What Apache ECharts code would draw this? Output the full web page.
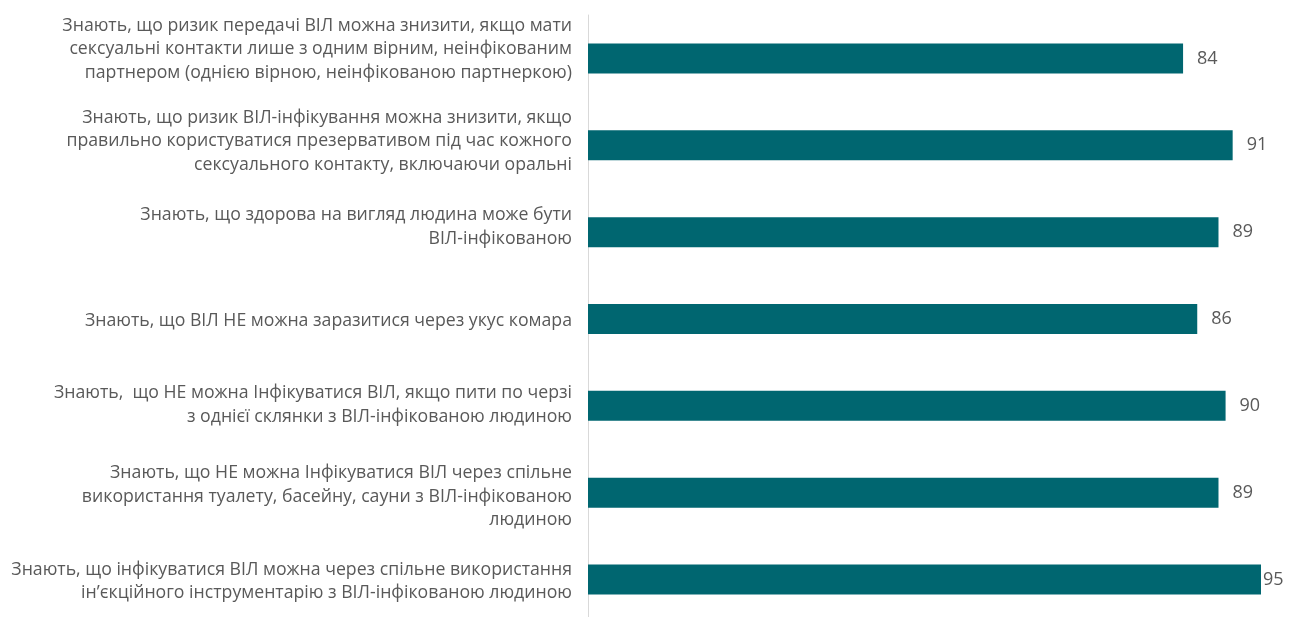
<!DOCTYPE html>
<html>
<head>
<meta charset="utf-8">
<script src="https://cdn.jsdelivr.net/npm/echarts@6/dist/echarts.min.js"></script>
<style>
  html, body { margin: 0; padding: 0; background: #fff; overflow: hidden; }
  #chart { width: 1290px; height: 630px; }
</style>
</head>
<body>
<div id="chart"></div>
<script>
// categories, top to bottom
const categories = [
  'Знають, що ризик передачі ВІЛ можна знизити, якщо мати\nсексуальні контакти лише з одним вірним, неінфікованим\nпартнером (однією вірною, неінфікованою партнеркою)',
  'Знають, що ризик ВІЛ-інфікування можна знизити, якщо\nправильно користуватися презервативом під час кожного\nсексуального контакту, включаючи оральні',
  'Знають, що здорова на вигляд людина може бути\nВІЛ-інфікованою',
  'Знають, що ВІЛ НЕ можна заразитися через укус комара',
  'Знають,  що НЕ можна Інфікуватися ВІЛ, якщо пити по черзі\nз однієї склянки з ВІЛ-інфікованою людиною',
  'Знають, що НЕ можна Інфікуватися ВІЛ через спільне\nвикористання туалету, басейну, сауни з ВІЛ-інфікованою\nлюдиною',
  'Знають, що інфікуватися ВІЛ можна через спільне використання\nін’єкційного інструментарію з ВІЛ-інфікованою людиною'
];
const values = [84, 91, 89, 86, 90, 89, 95];

// vertical nudge of each label block (px, negative = up), as in the original layout
const labelShift = [-9, -4, -5, 2, -1, 4, 2];

// spacer lines: an invisible line of height 2*|shift| above or below the block
const rich = {
  t: { color: '#595959', fontFamily: 'Open Sans', fontSize: 17.7, lineHeight: 23.5, align: 'right' }
};
labelShift.forEach(function (s, i) {
  rich['g' + i] = { fontSize: 1, lineHeight: Math.max(1, 2 * Math.abs(s)) };
});

// the div is a bit taller than the window so the last row can run to the edge
const chart = echarts.init(document.getElementById('chart'));

const option = {
  animation: false,
  grid: {
    left: 588,
    right: 29,
    top: 15,
    height: 608,
    containLabel: false
  },
  xAxis: {
    type: 'value',
    min: 0,
    max: 95,
    show: false
  },
  yAxis: {
    type: 'category',
    inverse: true,
    data: categories,
    axisLine: { show: true, lineStyle: { color: '#d9d9d9', width: 1 } },
    axisTick: { show: false },
    axisLabel: {
      margin: 16,
      align: 'right',
      rich: rich,
      formatter: function (value, i) {
        const body = value.split('\n').map(function (l) { return '{t|' + l + '}'; }).join('\n');
        const gap = '{g' + i + '| }';
        return labelShift[i] < 0 ? body + '\n' + gap : gap + '\n' + body;
      }
    }
  },
  series: [{
    type: 'bar',
    data: values.map(function (v, i) {
      return i === values.length - 1 ? { value: v, label: { distance: 2 } } : v;
    }),
    barWidth: 30,
    itemStyle: { color: '#006670' },
    label: {
      show: true,
      position: 'right',
      distance: 14,
      color: '#595959',
      fontFamily: 'Open Sans',
      fontSize: 18
    }
  }]
};

chart.setOption(option);
</script>
</body>
</html>
